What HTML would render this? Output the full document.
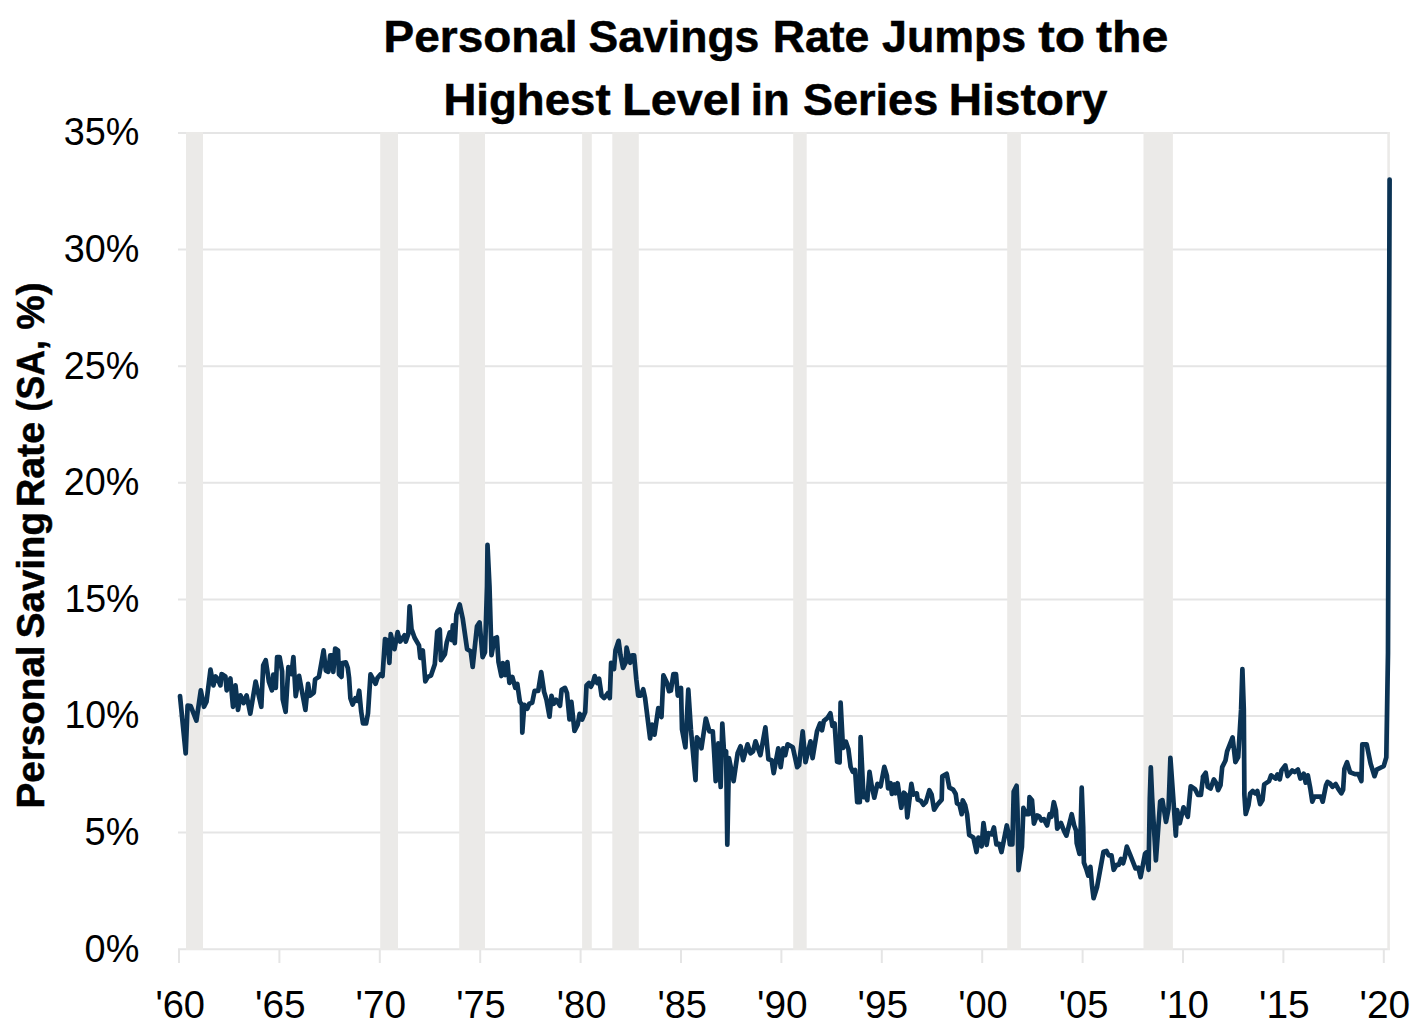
<!DOCTYPE html>
<html><head><meta charset="utf-8"><title>Personal Savings Rate</title>
<style>
html,body{margin:0;padding:0;background:#fff;}
body{width:1421px;height:1032px;overflow:hidden;font-family:"Liberation Sans",sans-serif;}
svg{display:block;}
text{font-family:"Liberation Sans",sans-serif;fill:#000;}
.t{font-weight:bold;font-size:43.5px;stroke:#000;stroke-width:0.5px;}
.l{font-size:38.5px;}
.ax{font-weight:bold;font-size:38.5px;stroke:#000;stroke-width:0.5px;}
</style></head><body>
<svg width="1421" height="1032" viewBox="0 0 1421 1032">
<rect width="1421" height="1032" fill="#fff"/>

<g stroke="#e5e5e5" stroke-width="2" fill="none">
<line x1="178" y1="133.0" x2="1390" y2="133.0"/>
<line x1="178" y1="249.6" x2="1390" y2="249.6"/>
<line x1="178" y1="366.2" x2="1390" y2="366.2"/>
<line x1="178" y1="482.8" x2="1390" y2="482.8"/>
<line x1="178" y1="599.4" x2="1390" y2="599.4"/>
<line x1="178" y1="716.0" x2="1390" y2="716.0"/>
<line x1="178" y1="832.6" x2="1390" y2="832.6"/>
<line x1="178" y1="949.2" x2="1390" y2="949.2"/>
<line x1="179.0" y1="949" x2="179.0" y2="963"/>
<line x1="279.4" y1="949" x2="279.4" y2="963"/>
<line x1="379.8" y1="949" x2="379.8" y2="963"/>
<line x1="480.2" y1="949" x2="480.2" y2="963"/>
<line x1="580.6" y1="949" x2="580.6" y2="963"/>
<line x1="681.0" y1="949" x2="681.0" y2="963"/>
<line x1="781.4" y1="949" x2="781.4" y2="963"/>
<line x1="881.8" y1="949" x2="881.8" y2="963"/>
<line x1="982.2" y1="949" x2="982.2" y2="963"/>
<line x1="1082.6" y1="949" x2="1082.6" y2="963"/>
<line x1="1183.0" y1="949" x2="1183.0" y2="963"/>
<line x1="1283.4" y1="949" x2="1283.4" y2="963"/>
<line x1="1383.8" y1="949" x2="1383.8" y2="963"/>
</g>
<g fill="#ebeae8">
<rect x="186.0" y="132" width="17.0" height="818"/>
<rect x="380.2" y="132" width="17.8" height="818"/>
<rect x="459.2" y="132" width="25.8" height="818"/>
<rect x="582.1" y="132" width="9.7" height="818"/>
<rect x="612.3" y="132" width="26.5" height="818"/>
<rect x="793.2" y="132" width="13.5" height="818"/>
<rect x="1007.2" y="132" width="13.7" height="818"/>
<rect x="1143.5" y="132" width="29.4" height="818"/>
<rect x="1387.3" y="132" width="2.6" height="818"/>
</g>
<path d="M180.0,696.1 L185.7,753.4 L187.6,705.5 L190.7,706.1 L196.4,720.6 L200.8,690.4 L204.0,706.8 L206.5,701.7 L210.5,669.6 L213.4,685.4 L215.6,676.5 L217.8,679.1 L220.4,685.4 L221.6,674.0 L225.4,676.5 L226.7,690.4 L230.4,678.4 L233.0,706.8 L235.5,685.4 L238.0,709.9 L240.5,695.4 L243.7,703.0 L246.6,695.4 L250.3,713.7 L255.6,681.6 L261.3,706.8 L263.2,665.2 L265.7,660.2 L268.9,681.6 L272.0,690.4 L273.3,674.6 L275.8,687.9 L277.1,657.0 L279.6,657.0 L282.1,671.5 L282.7,699.2 L285.6,711.8 L288.4,667.1 L291.5,674.0 L293.4,657.0 L295.7,696.1 L299.1,675.9 L305.4,709.9 L306.3,700.8 L308.1,683.8 L310.0,695.8 L313.8,692.6 L315.1,679.4 L318.9,676.9 L321.4,663.0 L323.6,650.4 L325.8,670.6 L328.3,671.8 L330.2,655.4 L332.1,655.4 L333.3,671.8 L335.2,648.5 L338.0,650.4 L339.0,674.3 L341.5,676.9 L342.2,663.0 L345.9,662.4 L347.8,668.0 L349.1,678.1 L350.4,698.3 L352.6,704.6 L355.4,698.3 L357.3,700.8 L359.2,690.7 L361.1,710.9 L363.0,723.5 L366.1,723.5 L368.0,713.4 L370.5,674.3 L375.6,683.8 L377.4,678.1 L380.6,674.3 L382.5,676.2 L385.0,639.1 L387.5,640.3 L389.4,663.0 L390.7,634.0 L394.5,649.1 L397.6,632.1 L400.1,641.6 L404.5,635.3 L405.8,641.6 L408.3,634.0 L409.6,606.3 L411.5,629.0 L414.6,637.8 L419.0,645.4 L420.3,658.0 L422.8,650.4 L425.3,681.3 L427.8,676.9 L431.0,675.6 L434.8,664.3 L437.3,631.5 L439.8,629.6 L440.9,660.1 L444.9,654.1 L446.8,642.2 L449.8,632.3 L451.8,640.2 L452.8,625.3 L454.8,643.2 L456.4,614.4 L459.7,604.5 L462.7,618.4 L467.1,649.2 L470.7,651.2 L472.7,667.0 L477.0,626.3 L479.6,622.4 L482.6,657.1 L485.0,652.2 L487.0,586.6 L487.5,544.9 L489.5,586.6 L491.5,655.1 L494.5,638.3 L496.9,637.3 L498.5,662.1 L501.4,676.0 L502.8,663.1 L505.4,675.0 L507.4,662.1 L509.4,682.9 L512.4,677.0 L515.3,687.9 L517.3,683.9 L519.9,701.8 L521.9,704.8 L522.3,732.6 L524.3,704.8 L527.3,708.7 L529.2,703.8 L532.2,702.8 L534.6,690.9 L538.2,690.9 L541.2,672.0 L544.1,691.9 L546.5,699.8 L549.5,716.7 L551.5,695.8 L553.7,703.8 L556.1,699.8 L560.0,705.8 L561.6,689.9 L565.0,687.9 L567.0,693.1 L569.5,719.5 L571.4,701.9 L574.5,730.9 L577.7,724.6 L579.6,713.9 L582.1,719.5 L585.2,712.0 L586.5,685.5 L589.0,683.0 L590.9,686.8 L592.8,683.0 L594.7,676.1 L597.2,683.0 L599.1,678.6 L601.6,695.6 L604.1,698.1 L607.9,693.1 L609.8,698.1 L611.1,662.8 L614.0,669.1 L615.5,650.2 L618.6,640.8 L620.5,655.3 L623.0,667.9 L625.6,662.8 L626.6,647.7 L628.7,656.5 L630.3,662.8 L632.1,655.3 L634.1,655.3 L636.3,679.2 L638.2,695.6 L640.7,695.6 L643.2,689.3 L645.1,698.1 L650.1,738.4 L652.0,724.6 L654.5,734.7 L658.3,708.2 L661.5,717.0 L663.4,675.4 L667.1,683.0 L669.0,691.2 L670.9,690.6 L673.4,674.2 L676.0,674.2 L677.8,695.6 L681.0,688.0 L682.0,729.4 L685.4,747.3 L688.3,689.7 L690.9,729.4 L695.5,780.1 L696.9,737.4 L699.9,741.3 L701.4,748.3 L705.8,718.5 L709.4,731.4 L712.8,731.4 L714.2,753.3 L715.7,781.1 L718.3,743.3 L720.7,787.0 L722.3,723.5 L724.1,753.3 L726.1,751.3 L727.3,844.6 L729.0,758.2 L733.6,781.1 L737.6,753.3 L740.6,746.3 L743.1,760.2 L747.5,744.3 L750.5,753.3 L753.1,751.3 L755.5,741.3 L760.4,755.2 L765.4,727.4 L768.4,759.2 L771.7,760.2 L773.7,773.1 L778.3,748.3 L780.7,767.2 L783.3,748.3 L785.2,755.2 L787.6,744.3 L792.8,747.3 L797.2,767.2 L799.1,765.2 L802.7,731.4 L805.5,762.2 L810.5,741.3 L812.6,758.2 L817.0,731.4 L820.0,723.5 L822.0,730.3 L823.9,720.9 L827.6,717.7 L830.4,713.3 L832.4,725.9 L834.6,723.4 L837.1,761.8 L839.6,762.4 L840.6,702.6 L843.0,748.0 L845.9,741.7 L848.4,749.2 L850.6,766.9 L852.8,771.9 L855.1,770.0 L857.2,802.1 L859.8,802.1 L860.6,737.2 L863.5,797.1 L865.4,794.6 L867.3,800.2 L869.5,771.9 L871.7,785.8 L874.3,797.7 L877.4,783.9 L880.6,786.4 L884.3,766.9 L886.9,775.7 L888.1,788.3 L890.6,783.2 L891.9,793.9 L894.4,784.5 L895.7,793.3 L897.6,783.2 L901.3,807.8 L903.9,792.7 L905.8,794.6 L907.3,817.3 L911.4,783.9 L913.3,794.6 L916.8,793.3 L917.7,799.6 L920.9,800.9 L923.4,804.7 L925.9,802.1 L929.4,790.2 L931.6,794.6 L934.1,809.7 L937.3,804.7 L941.7,799.6 L942.3,776.3 L946.7,773.8 L949.4,787.7 L953.2,789.6 L955.7,794.0 L957.0,803.5 L959.5,804.7 L961.7,814.2 L962.7,800.3 L965.2,805.4 L967.1,814.2 L969.2,835.0 L973.4,837.5 L976.5,852.0 L978.4,837.5 L981.6,846.3 L983.5,823.0 L986.6,845.0 L988.5,833.1 L991.7,834.3 L993.9,827.4 L996.4,844.4 L999.2,843.8 L1001.5,852.0 L1006.8,825.5 L1008.7,834.3 L1009.9,844.4 L1012.4,844.4 L1013.7,791.5 L1016.6,785.8 L1017.5,810.4 L1018.5,870.2 L1021.9,846.9 L1023.4,807.9 L1026.3,814.2 L1028.8,814.2 L1029.5,797.2 L1032.0,800.3 L1033.9,823.6 L1037.0,815.4 L1039.5,816.7 L1041.4,820.5 L1043.9,819.2 L1047.1,825.5 L1049.6,814.2 L1051.5,816.7 L1053.8,802.2 L1055.9,810.4 L1057.2,828.7 L1061.0,823.0 L1064.1,831.2 L1066.4,835.6 L1069.1,824.9 L1071.7,814.2 L1074.2,825.5 L1076.1,830.6 L1076.7,843.2 L1079.5,853.9 L1080.7,827.7 L1081.7,787.7 L1083.2,827.7 L1083.9,862.6 L1086.5,869.8 L1088.3,875.7 L1090.4,866.9 L1091.9,884.4 L1093.6,898.2 L1097.0,887.3 L1103.5,851.7 L1106.4,850.9 L1108.6,855.3 L1111.5,855.3 L1113.7,869.8 L1116.6,864.8 L1118.8,864.8 L1121.0,858.9 L1123.1,863.3 L1124.6,858.2 L1126.8,846.6 L1130.4,855.3 L1135.5,868.4 L1138.4,867.7 L1140.6,877.1 L1145.0,853.9 L1146.4,852.4 L1148.6,869.8 L1149.8,798.6 L1150.8,767.4 L1152.2,798.6 L1155.9,860.4 L1160.2,801.5 L1162.4,800.1 L1166.0,821.9 L1168.5,808.8 L1170.4,757.9 L1173.3,798.6 L1175.8,835.7 L1177.2,810.2 L1179.8,823.3 L1183.5,807.3 L1187.8,816.8 L1190.7,786.3 L1195.1,789.2 L1198.0,795.0 L1200.9,795.0 L1203.1,776.8 L1202.9,776.9 L1205.7,772.8 L1207.8,786.8 L1210.6,788.5 L1213.9,779.4 L1216.4,783.5 L1218.1,790.1 L1220.5,785.2 L1222.2,767.1 L1225.5,760.5 L1227.1,751.4 L1232.6,737.4 L1235.4,762.1 L1238.2,757.2 L1241.1,709.4 L1242.4,669.1 L1243.8,709.4 L1244.4,795.1 L1245.7,814.0 L1248.5,805.0 L1250.2,793.4 L1252.7,791.0 L1255.1,793.4 L1257.3,791.0 L1260.1,804.1 L1262.5,800.0 L1264.2,784.4 L1269.1,781.1 L1271.1,775.3 L1275.7,778.6 L1277.4,774.5 L1279.8,779.4 L1281.5,770.4 L1285.3,765.4 L1287.6,776.1 L1292.2,770.4 L1294.7,772.0 L1297.9,769.5 L1300.4,778.6 L1303.7,773.7 L1305.7,782.7 L1307.8,775.3 L1310.3,788.5 L1312.3,801.7 L1314.4,796.7 L1321.0,796.7 L1322.7,801.7 L1326.0,785.2 L1327.6,781.9 L1330.1,783.5 L1332.5,786.8 L1335.7,784.1 L1338.3,788.9 L1341.4,793.3 L1343.1,789.8 L1344.4,768.8 L1347.0,762.3 L1350.1,772.3 L1354.9,774.1 L1358.4,774.1 L1361.4,781.0 L1362.3,744.4 L1366.7,744.4 L1370.6,763.6 L1374.5,776.2 L1376.7,769.7 L1381.0,767.5 L1383.7,766.2 L1386.3,757.4 L1388.0,652.6 L1389.6,179.6" fill="none" stroke="#0b3354" stroke-width="4.7" stroke-linejoin="round" stroke-linecap="round"/>
<text class="t" x="383.60" y="52" textLength="194.01" lengthAdjust="spacingAndGlyphs">Personal</text>
<text class="t" x="588.60" y="52" textLength="170.80" lengthAdjust="spacingAndGlyphs">Savings</text>
<text class="t" x="772.80" y="52" textLength="96.58" lengthAdjust="spacingAndGlyphs">Rate</text>
<text class="t" x="882.00" y="52" textLength="144.21" lengthAdjust="spacingAndGlyphs">Jumps</text>
<text class="t" x="1038.20" y="52" textLength="46.79" lengthAdjust="spacingAndGlyphs">to</text>
<text class="t" x="1096.00" y="52" textLength="72.40" lengthAdjust="spacingAndGlyphs">the</text>
<text class="t" x="443.40" y="114.8" textLength="167.20" lengthAdjust="spacingAndGlyphs">Highest</text>
<text class="t" x="622.20" y="114.8" textLength="119.61" lengthAdjust="spacingAndGlyphs">Level</text>
<text class="t" x="750.80" y="114.8" textLength="38.79" lengthAdjust="spacingAndGlyphs">in</text>
<text class="t" x="803.00" y="114.8" textLength="135.22" lengthAdjust="spacingAndGlyphs">Series</text>
<text class="t" x="948.80" y="114.8" textLength="158.62" lengthAdjust="spacingAndGlyphs">History</text>
<text class="l" x="63.80" y="145.3" textLength="75.62" lengthAdjust="spacingAndGlyphs">35%</text>
<text class="l" x="63.80" y="261.9" textLength="75.62" lengthAdjust="spacingAndGlyphs">30%</text>
<text class="l" x="63.80" y="378.5" textLength="75.62" lengthAdjust="spacingAndGlyphs">25%</text>
<text class="l" x="63.80" y="495.1" textLength="75.62" lengthAdjust="spacingAndGlyphs">20%</text>
<text class="l" x="64.40" y="611.7" textLength="75.02" lengthAdjust="spacingAndGlyphs">15%</text>
<text class="l" x="64.40" y="728.3" textLength="75.02" lengthAdjust="spacingAndGlyphs">10%</text>
<text class="l" x="84.60" y="844.9" textLength="54.81" lengthAdjust="spacingAndGlyphs">5%</text>
<text class="l" x="84.60" y="961.5" textLength="54.81" lengthAdjust="spacingAndGlyphs">0%</text>
<text class="l" x="155.40" y="1017.8" textLength="49.61" lengthAdjust="spacingAndGlyphs">'60</text>
<text class="l" x="255.00" y="1017.8" textLength="50.61" lengthAdjust="spacingAndGlyphs">'65</text>
<text class="l" x="355.60" y="1017.8" textLength="50.61" lengthAdjust="spacingAndGlyphs">'70</text>
<text class="l" x="456.20" y="1017.8" textLength="49.61" lengthAdjust="spacingAndGlyphs">'75</text>
<text class="l" x="556.80" y="1017.8" textLength="49.61" lengthAdjust="spacingAndGlyphs">'80</text>
<text class="l" x="657.40" y="1017.8" textLength="49.61" lengthAdjust="spacingAndGlyphs">'85</text>
<text class="l" x="757.00" y="1017.8" textLength="50.61" lengthAdjust="spacingAndGlyphs">'90</text>
<text class="l" x="857.60" y="1017.8" textLength="50.61" lengthAdjust="spacingAndGlyphs">'95</text>
<text class="l" x="958.20" y="1017.8" textLength="49.61" lengthAdjust="spacingAndGlyphs">'00</text>
<text class="l" x="1058.80" y="1017.8" textLength="49.61" lengthAdjust="spacingAndGlyphs">'05</text>
<text class="l" x="1159.40" y="1017.8" textLength="49.61" lengthAdjust="spacingAndGlyphs">'10</text>
<text class="l" x="1259.00" y="1017.8" textLength="50.61" lengthAdjust="spacingAndGlyphs">'15</text>
<text class="l" x="1359.60" y="1017.8" textLength="50.61" lengthAdjust="spacingAndGlyphs">'20</text>
<g transform="translate(44.2,0) rotate(-90)">
<text class="ax" x="-808.60" y="0" textLength="163.21" lengthAdjust="spacingAndGlyphs">Personal</text>
<text class="ax" x="-638.20" y="0" textLength="126.19" lengthAdjust="spacingAndGlyphs">Saving</text>
<text class="ax" x="-507.00" y="0" textLength="84.98" lengthAdjust="spacingAndGlyphs">Rate</text>
<text class="ax" x="-411.40" y="0" textLength="71.20" lengthAdjust="spacingAndGlyphs">(SA,</text>
<text class="ax" x="-329.80" y="0" textLength="47.41" lengthAdjust="spacingAndGlyphs">%)</text>
</g>
</svg></body></html>
